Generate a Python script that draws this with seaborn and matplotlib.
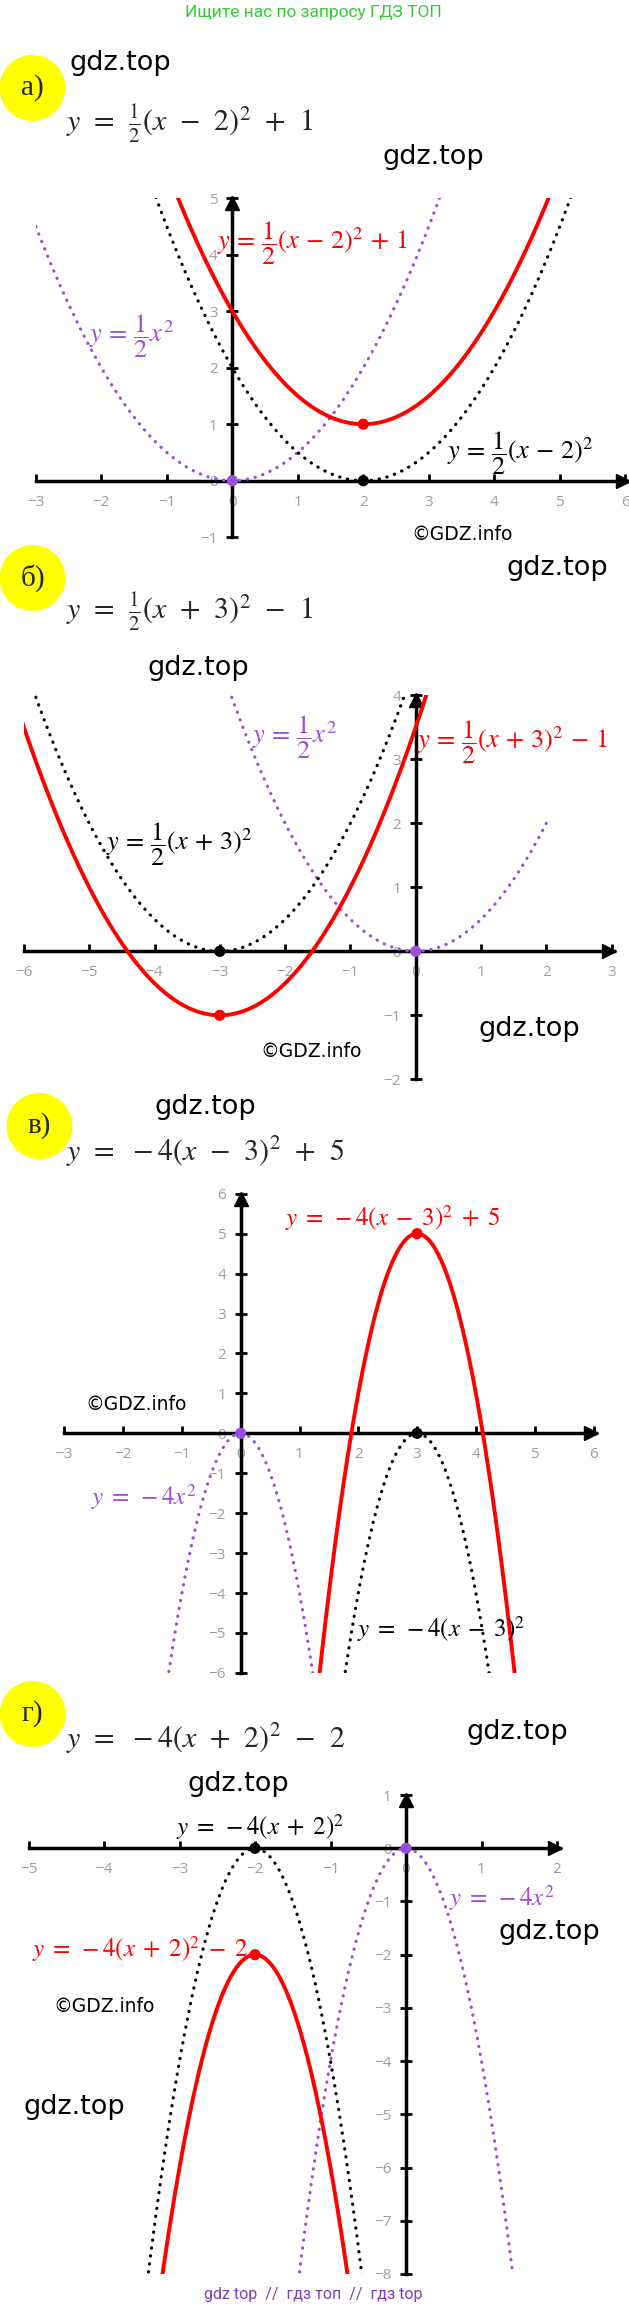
import numpy as np
import pandas as pd
import matplotlib
matplotlib.use("Agg")
import matplotlib.pyplot as plt
from matplotlib.patches import Ellipse
import seaborn as sns

# figure size in pixels (dpi 100)
W, H = 629, 2309

'''
Data: y = a*x^2  ->  y = a*(x-h)^2  ->  y = a*(x-h)^2 + k
'''
letters = ["а)", "б)", "в)", "г)"]
coef_a = [0.5, 0.5, -4, -4]
shift_h = [2, -3, 3, -2]
shift_k = [1, -1, 5, -2]

x_ranges = [(-3, 6), (-6, 3), (-3, 6), (-5, 2)]
y_ranges = [(-1, 5), (-2, 4), (-6, 6), (-8, 1)]

# visible x-domains of the three curves (base, shifted, final)
base_dom = [(-3.0, 3.25), (-2.9, 2.0), (-1.3, 1.3), (-1.45, 1.45)]
shift_dom = [(-1.25, 5.25), (-5.9, -0.1), (1.7, 4.3), (-3.45, -0.55)]
final_dom = [(-0.95, 4.95), (-6.05, 0.25), (1.3, 4.7), (-3.3, -0.7)]

titles = [r"$y\;\,=\;\,\frac{1}{2}(x\;\,-\;\,2)^2\;\,+\;\,1$",
          r"$y\;\,=\;\,\frac{1}{2}(x\;\,+\;\,3)^2\;\,-\;\,1$",
          r"$y\;\,=\;\,-4(x\;\,-\;\,3)^2\;\,+\;\,5$",
          r"$y\;\,=\;\,-4(x\;\,+\;\,2)^2\;\,-\;\,2$"]
base_lbl = [r"$y\,=\,\dfrac{1}{2}x^2$", r"$y\,=\,\dfrac{1}{2}x^2$",
            r"$y\;=\;-4x^2$", r"$y\;=\;-4x^2$"]
shift_lbl = [r"$y\,=\,\dfrac{1}{2}(x\,-\,2)^2$", r"$y\,=\,\dfrac{1}{2}(x\,+\,3)^2$",
             r"$y\;=\;-4(x\;-\;3)^2$", r"$y\;=\;-4(x\;+\;2)^2$"]
final_lbl = [r"$y\,=\,\dfrac{1}{2}(x\,-\,2)^2\,+\,1$",
             r"$y\,=\,\dfrac{1}{2}(x\,+\,3)^2\,-\,1$",
             r"$y\;=\;-4(x\;-\;3)^2\;+\;5$",
             r"$y\;=\;-4(x\;+\;2)^2\;-\;2$"]

'''
Layout (pixels)
'''
origin_px = [(232.3, 480.7), (415.7, 951.3), (240.7, 1433.3), (406.0, 1848.3)]
unit_px = [(65.5, 56.5), (65.3, 64.0), (58.8, 39.93), (75.5, 53.2)]
circle_px = [(32.5, 88), (32.5, 578), (39.5, 1126), (32.7, 1714)]
title_px = [(66, 124), (66, 612), (66, 1152), (66, 1739)]
label_size = [19, 19, 18, 18]
# label left edge / vertical centre in data units
base_pos = [(-2.19, 2.55), (-2.5, 3.34), (-2.54, -1.59), (0.57, -0.94)]
shift_pos = [(3.28, 0.49), (-4.74, 1.67), (1.98, -4.9), (-3.04, 0.4)]
final_pos = [(-0.24, 4.2), (0.02, 3.26), (0.76, 5.4), (-4.95, -1.9)]
gdz_top_px = [(120, 63), (433, 157), (557, 568), (198, 668), (529, 1029),
              (205, 1107), (517, 1732), (238, 1784), (549, 1932), (74, 2107)]
gdz_info_px = [(462, 534), (311, 1052), (136, 1405), (104, 2006)]

RED = '#ff0000'
PURPLE = '#9b4fdc'
BLACK = '#000000'
GRAY = '#9e9e9e'

sns.set_theme(style="white")
plt.rcParams['font.family'] = ['DejaVu Sans']
plt.rcParams['mathtext.fontset'] = 'stix'

fig = plt.figure(figsize=(W / 100, H / 100), dpi=100)


def fpos(x, y):
    return x / W, 1 - y / H


def parabola(a, h, k, dom):
    xs = np.linspace(dom[0], dom[1], 400)
    return pd.DataFrame({"x": xs, "y": a * (xs - h) ** 2 + k})


def draw_panel(i):
    (ox, oy), (ux, uy) = origin_px[i], unit_px[i]
    x0, x1 = x_ranges[i]
    y0, y1 = y_ranges[i]
    x1e = x1 + 0.04
    left, right = ox + x0 * ux, ox + x1e * ux
    top, bottom = oy - y1 * uy, oy - y0 * uy
    ax = fig.add_axes([left / W, 1 - bottom / H, (right - left) / W, (bottom - top) / H])
    ax.patch.set_visible(False)
    ax.set_xlim(x0, x1e)
    ax.set_ylim(y0, y1)

    for s in ['top', 'right']:
        ax.spines[s].set_visible(False)
    ax.spines['left'].set_position(('data', 0))
    ax.spines['bottom'].set_position(('data', 0))
    for s in ['left', 'bottom']:
        ax.spines[s].set_linewidth(2.5)
        ax.spines[s].set_color(BLACK)
        ax.spines[s].set_zorder(2)

    ax.set_xticks(range(x0, x1 + 1))
    ax.set_yticks(range(y0, y1 + 1))
    ax.tick_params(axis='y', direction='inout', length=9, width=2, color=BLACK,
                   labelcolor=GRAY, labelsize=11, pad=6, left=True)
    ax.tick_params(axis='x', direction='in', length=5, width=2, color=BLACK,
                   labelcolor=GRAY, labelsize=11, pad=10, bottom=True)
    for lab in ax.get_xticklabels() + ax.get_yticklabels():
        lab.set_fontfamily(['Open Sans', 'DejaVu Sans'])

    # arrow heads
    ax.plot(x1e - 5 / ux, 0, marker='>', ms=10, color=BLACK, clip_on=False, zorder=3)
    ax.plot(0, y1 - 5 / uy, marker='^', ms=10, color=BLACK, clip_on=False, zorder=3)

    a, h, k = coef_a[i], shift_h[i], shift_k[i]
    dots = dict(linestyle=(0, (0.1, 2.4)), dash_capstyle='round', linewidth=2.3)
    sns.lineplot(data=parabola(a, 0, 0, base_dom[i]), x="x", y="y", ax=ax,
                 color=PURPLE, zorder=4, **dots)
    sns.lineplot(data=parabola(a, h, 0, shift_dom[i]), x="x", y="y", ax=ax,
                 color=BLACK, zorder=4, **dots)
    sns.lineplot(data=parabola(a, h, k, final_dom[i]), x="x", y="y", ax=ax,
                 color=RED, linewidth=2.8, zorder=5)

    pts = pd.DataFrame({"x": [0, h, h], "y": [0, 0, k], "c": ["b", "s", "f"]})
    sns.scatterplot(data=pts, x="x", y="y", hue="c", ax=ax, s=65, linewidth=0,
                    palette={"b": PURPLE, "s": BLACK, "f": RED}, legend=False,
                    zorder=6, clip_on=False)
    ax.set_xlabel('')
    ax.set_ylabel('')

    fs = label_size[i]
    ax.text(base_pos[i][0], base_pos[i][1], base_lbl[i], color=PURPLE,
            fontsize=fs, ha='left', va='center', zorder=7)
    ax.text(shift_pos[i][0], shift_pos[i][1], shift_lbl[i], color=BLACK,
            fontsize=fs, ha='left', va='center', zorder=7)
    ax.text(final_pos[i][0], final_pos[i][1], final_lbl[i], color=RED,
            fontsize=fs, ha='left', va='center', zorder=7)

    # letter badge and title
    cx, cy = fpos(*circle_px[i])
    fig.add_artist(Ellipse((cx, cy), 66 / W, 66 / H, transform=fig.transFigure,
                           facecolor='#ffff00', edgecolor='none'))
    fig.text(cx, cy, letters[i], ha='center', va='center', fontsize=21,
             family=['Liberation Serif', 'DejaVu Serif'])
    tx, ty = fpos(*title_px[i])
    fig.text(tx, ty, titles[i], ha='left', va='center', fontsize=21.5)


for i in range(4):
    draw_panel(i)

for (x, y) in gdz_top_px:
    fig.text(*fpos(x, y), "gdz.top", ha='center', va='center', fontsize=19.5,
             color=BLACK)
for (x, y) in gdz_info_px:
    fig.text(*fpos(x, y), "©GDZ.info", ha='center', va='center', fontsize=13.5,
             color=BLACK)

fig.text(*fpos(313, 12), "Ищите нас по запросу ГДЗ ТОП", ha='center', va='center',
         fontsize=12.5, color='#33cc33', family=['Roboto', 'DejaVu Sans'])
fig.text(*fpos(313, 2294), "gdz top  //  гдз топ  //  гдз top", ha='center',
         va='center', fontsize=11.5, color='#7b3fbf', family=['Roboto', 'DejaVu Sans'])

fig.savefig("out.png", dpi=100, facecolor='white')
